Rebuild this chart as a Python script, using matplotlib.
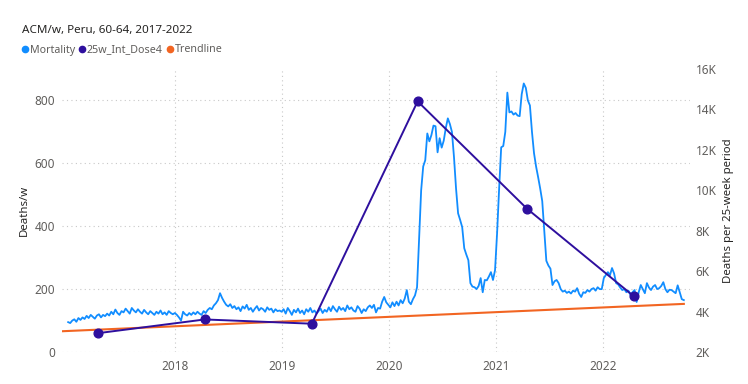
import numpy as np
import pandas as pd
import matplotlib
matplotlib.use('Agg')
import matplotlib.pyplot as plt
import matplotlib.dates as mdates
from matplotlib.lines import Line2D
from matplotlib.ticker import FuncFormatter

plt.rcParams['font.family'] = ['Noto Sans', 'DejaVu Sans']

# weekly all-cause mortality, Peru 60-64 (deaths/week)
mort_2017 = [95, 92, 100, 104, 96, 108, 102, 110, 105, 115, 108, 118, 112, 106, 116, 120, 110, 118,
             114, 122, 116, 128, 120, 135, 124, 118, 130, 126, 138, 130, 122, 140, 132, 126, 136, 128,
             122, 134, 126, 120, 130, 124, 118, 128, 122, 132, 120, 126, 118, 130, 124, 120]
mort_2018 = [124, 118, 110, 100, 128, 120, 116, 124, 118, 126, 120, 128, 122, 118, 130, 124, 134, 140,
             136, 148, 155, 165, 187, 172, 160, 150, 145, 152, 140, 146, 136, 142, 130, 145, 138, 150,
             134, 140, 128, 138, 146, 132, 140, 136, 128, 142, 134, 138, 126, 136, 130, 132]
mort_2019 = [128, 136, 122, 140, 130, 118, 134, 126, 138, 124, 132, 120, 136, 128, 140, 126, 132, 122,
             130, 138, 124, 134, 128, 142, 130, 146, 136, 128, 144, 134, 140, 130, 148, 136, 142, 132,
             128, 146, 138, 124, 136, 130, 142, 148, 140, 150, 126, 140, 138, 160, 175, 158]
mort_2020 = [150, 142, 158, 146, 160, 148, 165, 155, 170, 197, 160, 152, 168, 180, 206, 356, 514, 590,
             610, 695, 670, 690, 720, 718, 635, 680, 650, 672, 712, 743, 725, 700, 620, 520, 441, 420,
             397, 330, 310, 292, 219, 208, 206, 200, 210, 235, 190, 229, 228, 240, 254, 229]
mort_2021 = [260, 378, 520, 651, 655, 700, 825, 762, 765, 755, 760, 752, 750, 820, 854, 840, 800, 784,
             700, 632, 590, 556, 520, 480, 387, 290, 275, 265, 213, 225, 229, 219, 200, 192, 195, 188,
             192, 186, 195, 192, 203, 185, 175, 190, 188, 197, 192, 200, 203, 195, 206, 200]
mort_2022 = [200, 235, 245, 254, 244, 267, 250, 219, 215, 205, 197, 200, 190, 195, 181, 190, 197, 159,
             190, 213, 200, 187, 219, 205, 197, 208, 213, 200, 203, 210, 222, 200, 190, 198, 197, 192,
             187, 212, 190, 168, 165]

mortality = mort_2017 + mort_2018 + mort_2019 + mort_2020 + mort_2021 + mort_2022
weeks = pd.date_range('2017-01-02', periods=len(mortality), freq='7D')

# deaths per 25-week period
dose_dates = pd.to_datetime(['2017-04-13', '2018-04-13', '2019-04-13',
                             '2020-04-08', '2021-04-16', '2022-04-16'])
dose_vals = [2930, 3610, 3400, 14400, 9090, 4750]

# trendline (deaths/w)
trend_dates = pd.to_datetime(['2016-12-12', '2022-10-03'])
trend_vals = [66, 153]

year_ticks = pd.to_datetime(['2018-01-01', '2019-01-01', '2020-01-01', '2021-01-01', '2022-01-01'])

blue = '#118DFF'
purple = '#2E0F9E'
orange = '#F26522'
grey = '#605E5C'

fig = plt.figure(figsize=(7.48, 3.84), dpi=100)
ax = fig.add_axes([62 / 748, 32 / 384, 628 / 748, 283 / 384])
ax2 = ax.twinx()

ax.plot(weeks, mortality, color=blue, lw=1.3, zorder=3)
ax.plot(trend_dates, trend_vals, color=orange, lw=1.5, zorder=4)
ax2.plot(dose_dates, dose_vals, color=purple, lw=1.4, marker='o', ms=6.3, zorder=5)

ax.set_ylim(0, 900)
ax2.set_ylim(2000, 16000)
ax.set_xlim(pd.Timestamp('2016-12-12'), pd.Timestamp('2022-10-24'))

ax.set_yticks([0, 200, 400, 600, 800])
ax2.set_yticks(range(2000, 16001, 2000))
ax2.yaxis.set_major_formatter(FuncFormatter(lambda v, p: f'{int(v / 1000)}K'))
ax.set_xticks(year_ticks)
ax.xaxis.set_major_formatter(mdates.DateFormatter('%Y'))

ax.grid(True, color='#C8C8C8', ls=(0, (1, 3)), lw=0.8)
ax.set_axisbelow(True)
for a in (ax, ax2):
    for s in a.spines.values():
        s.set_visible(False)
    a.tick_params(length=0, labelsize=8.5, colors=grey)
ax.tick_params(axis='y', pad=5)
ax2.tick_params(axis='y', pad=4)
ax.tick_params(axis='x', pad=6)

ax.set_ylabel('Deaths/w', fontsize=8.2, color='#252423')
ax2.set_ylabel('Deaths per 25-week period', fontsize=8.2, color='#252423')
ax.yaxis.set_label_coords(-32 / 628, 0.5)
ax2.yaxis.set_label_coords(1 + 33 / 628, 0.5)

fig.text(22 / 748, 1 - 30 / 384, 'ACM/w, Peru, 60-64, 2017-2022', fontsize=8.4,
         color='#252423', va='center', ha='left')

handles = [Line2D([], [], ls='none', marker='o', ms=4.5, color=c) for c in (blue, purple, orange)]
fig.legend(handles, ['Mortality', '25w_Int_Dose4', 'Trendline'], loc='center left',
           bbox_to_anchor=(23 / 748, 1 - 50 / 384), ncol=3, frameon=False, fontsize=7.7,
           handlelength=0.45, handletextpad=0.2, columnspacing=0.45, borderaxespad=0,
           borderpad=0, labelcolor=grey)

fig.savefig('out.png', dpi=100)
